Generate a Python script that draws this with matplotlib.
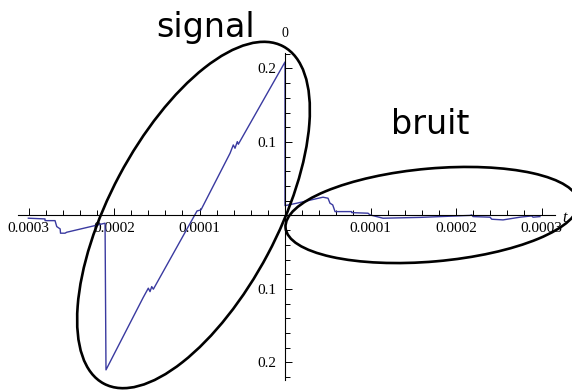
import matplotlib
matplotlib.use("Agg")
import matplotlib.pyplot as plt
from matplotlib.patches import Ellipse
from matplotlib.ticker import MultipleLocator, FuncFormatter

# signal + bruit trace (t in s)
t = [-0.0003002, -0.0002807, -0.0002807, -0.000269, -0.000267, -0.000263,
     -0.0002626, -0.0002573, -0.0002553, -0.0002105, -0.0002094,
     -0.0001661, -0.0001599, -0.0001579, -0.0001559, -0.000154,
     -0.0001029, -0.0000983, -0.0000643, -0.0000605, -0.0000585,
     -0.0000558, -0.0000546, 0.0, 0.0,
     0.0000137, 0.0000444, 0.0000503, 0.0000526, 0.0000558, 0.0000585,
     0.000078, 0.000078, 0.0000971, 0.0000994, 0.0001146, 0.0001579,
     0.0002164, 0.0002184, 0.0002199, 0.0002398, 0.0002418, 0.000255,
     0.0002749, 0.0002885, 0.0002901, 0.0002982]
v = [-0.0038, -0.0048, -0.0071, -0.0071, -0.0152, -0.0184,
     -0.0242, -0.0242, -0.0229, -0.0106, -0.2102,
     -0.1122, -0.0990, -0.1037, -0.0969, -0.1004,
     0.0061, 0.0075, 0.0846, 0.0959, 0.0914,
     0.1004, 0.0969, 0.2088, 0.0133,
     0.0166, 0.0248, 0.0234, 0.0166, 0.0143, 0.0052,
     0.0052, 0.0038, 0.0030, 0.0007, -0.0038, -0.0027,
     0.0, 0.0007, -0.0016, -0.0024, -0.0052, -0.0061,
     -0.0024, -0.0007, -0.0024, -0.0016]

fig = plt.figure(figsize=(5.72, 3.91), dpi=100)
ax = fig.add_axes([0.0315, 0.0281, 0.9388, 0.8363])
ax.plot(t, v, color="#3a3aa0", lw=1.0, zorder=2)
ax.set_xlim(-0.0003123, 0.0003158)
ax.set_ylim(-0.224, 0.221)

for s in ("top", "right"):
    ax.spines[s].set_visible(False)
for s in ("left", "bottom"):
    ax.spines[s].set_position(("data", 0))
    ax.spines[s].set_linewidth(0.8)
    ax.spines[s].set_zorder(3)

ax.xaxis.set_major_locator(MultipleLocator(0.0001))
ax.xaxis.set_minor_locator(MultipleLocator(0.00002))
ax.yaxis.set_major_locator(MultipleLocator(0.1))
ax.yaxis.set_minor_locator(MultipleLocator(0.02))
ax.xaxis.set_major_formatter(FuncFormatter(lambda x, p: "" if abs(x) < 1e-9 else f"{abs(x):.4f}"))
ax.yaxis.set_major_formatter(FuncFormatter(lambda y, p: "" if abs(y) < 1e-9 else f"{abs(y):.1f}"))
ax.tick_params(which="both", direction="in", width=0.7, labelsize=11,
               labelfontfamily="Liberation Serif")
ax.tick_params(which="major", length=5)
ax.tick_params(which="minor", length=3.5)
ax.tick_params(axis="x", pad=5)
ax.tick_params(axis="y", pad=6)
ax.patch.set_alpha(0)

ax.text(0.0003275, -0.003, "t", fontsize=11.5, style="italic",
        family="Liberation Serif", ha="center", va="center", clip_on=False)
ax.text(0.0, 0.247, "0", fontsize=10, family="Liberation Serif",
        ha="center", va="center", clip_on=False)

# annotation layer in pixel units
ov = fig.add_axes([0, 0, 1, 1], zorder=5)
ov.set_xlim(0, 572)
ov.set_ylim(391, 0)
ov.axis("off")
ov.add_patch(Ellipse((193.5, 215), 382, 168, angle=-62, fill=False,
                     ec="black", lw=1.9))
ov.add_patch(Ellipse((432, 215), 294, 93, angle=-5, fill=False,
                     ec="black", lw=1.9))
ov.text(206, 28, "signal", fontsize=24, family="DejaVu Sans",
        ha="center", va="center")
ov.text(430, 125, "bruit", fontsize=24, family="DejaVu Sans",
        ha="center", va="center")

fig.savefig("out.png", dpi=100)
